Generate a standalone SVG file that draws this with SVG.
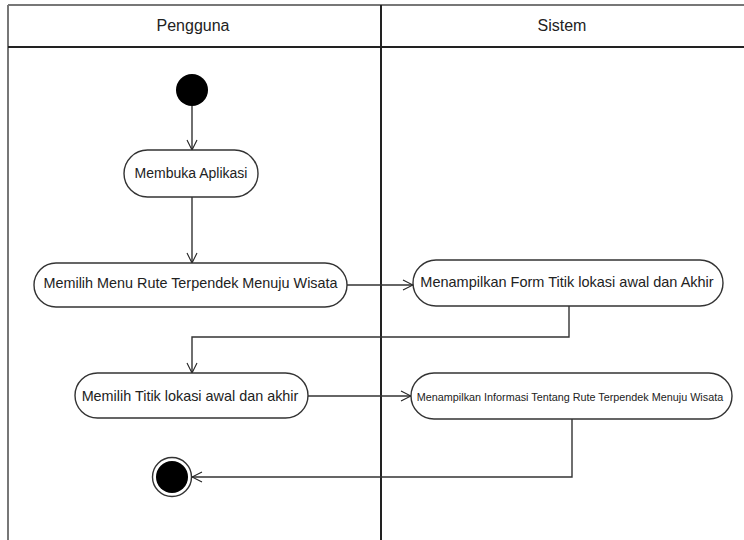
<svg xmlns="http://www.w3.org/2000/svg" width="744" height="540" viewBox="0 0 744 540">
<defs>
<marker id="arr" viewBox="0 0 12 12" refX="11" refY="6" markerWidth="12" markerHeight="12" markerUnits="userSpaceOnUse" orient="auto">
<path d="M1,1 L11,6 L1,11" fill="none" stroke="#222" stroke-width="1.1"/>
</marker>
<style>
.act{fill:#fff;stroke:#333;stroke-width:1.4}
.t{font-family:"Liberation Sans",Arial,sans-serif;fill:#222;text-anchor:middle}
.c{fill:none;stroke:#333;stroke-width:1.4}
</style>
</defs>
<rect width="744" height="540" fill="#fff"/>
<g id="swimlanes">
<line x1="8" y1="5" x2="744" y2="5" stroke="#777" stroke-width="2"/>
<line x1="8" y1="5" x2="8" y2="540" stroke="#777" stroke-width="2"/>
<line x1="8" y1="47" x2="744" y2="47" stroke="#222" stroke-width="2"/>
<line x1="381" y1="5" x2="381" y2="540" stroke="#222" stroke-width="2"/>
<text class="t" x="193" y="31" font-size="16">Pengguna</text>
<text class="t" x="562" y="31" font-size="16">Sistem</text>
</g>
<g id="connectors">
<line class="c" x1="192" y1="106" x2="192" y2="150" marker-end="url(#arr)"/>
<line class="c" x1="192" y1="197" x2="192" y2="263" marker-end="url(#arr)"/>
<line class="c" x1="347" y1="285" x2="413" y2="285" marker-end="url(#arr)"/>
<polyline class="c" points="569,306 569,337 192,337 192,373" marker-end="url(#arr)"/>
<line class="c" x1="308" y1="396" x2="411" y2="396" marker-end="url(#arr)"/>
<polyline class="c" points="572,419 572,477 192,477" marker-end="url(#arr)"/>
</g>
<g id="start"><circle cx="192" cy="90" r="16" fill="#000"/></g>
<g id="membuka">
<rect class="act" x="124" y="150" width="134" height="47" rx="23.5"/>
<text class="t" x="191" y="178" font-size="14">Membuka Aplikasi</text>
</g>
<g id="memilih-menu">
<rect class="act" x="34" y="263" width="313" height="44" rx="22"/>
<text class="t" x="190.5" y="288" font-size="14.4">Memilih Menu Rute Terpendek Menuju Wisata</text>
</g>
<g id="form">
<rect class="act" x="413" y="260" width="310" height="46" rx="23"/>
<text class="t" x="567" y="287" font-size="14.5">Menampilkan Form Titik lokasi awal dan Akhir</text>
</g>
<g id="memilih-titik">
<rect class="act" x="75" y="373" width="233" height="45" rx="22.5"/>
<text class="t" x="190" y="401" font-size="14.4">Memilih Titik lokasi awal dan akhir</text>
</g>
<g id="informasi">
<rect class="act" x="411" y="373" width="321" height="46" rx="23"/>
<text class="t" x="570" y="401" font-size="10.8">Menampilkan Informasi Tentang Rute Terpendek Menuju Wisata</text>
</g>
<g id="end">
<circle cx="172" cy="477" r="19.5" fill="#fff" stroke="#333" stroke-width="1.4"/>
<circle cx="172" cy="477" r="16" fill="#000"/>
</g>
</svg>
